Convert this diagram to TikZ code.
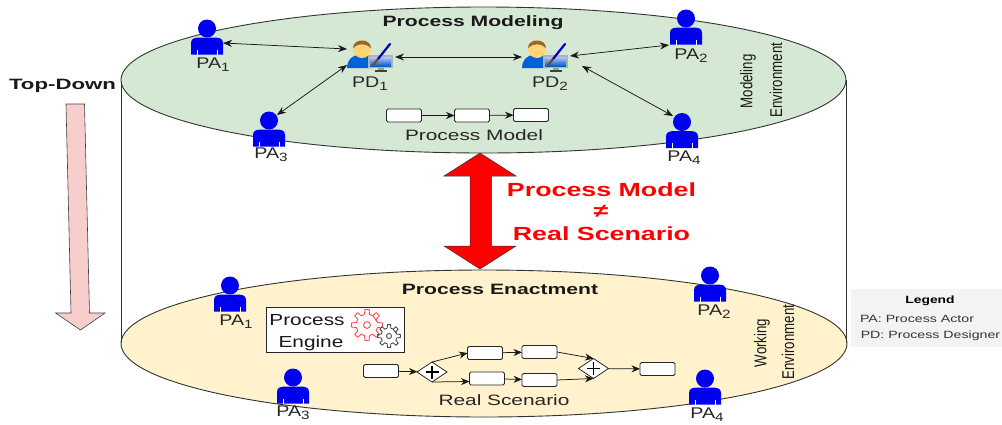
\documentclass[tikz,border=0pt]{standalone}
\usepackage{fontspec}
\setmainfont{Liberation Sans}
\usetikzlibrary{arrows.meta,shapes.geometric}
\definecolor{topfill}{HTML}{D5E8D4}
\definecolor{botfill}{HTML}{FFF2CC}
\definecolor{downfill}{HTML}{F8CECC}
\definecolor{actorblue}{HTML}{0000F0}
\definecolor{legendbg}{HTML}{F3F3F3}
\newcommand{\lowsub}[1]{\raisebox{-0.4ex}{\fontsize{12}{12}\selectfont #1}}
\tikzset{
  x=1pt,y=-1pt,
  every node/.style={inner sep=0pt,outer sep=0pt,align=center},
  env/.style={draw=black!80,line width=0.9pt},
  actorbox/.style={minimum width=32pt,minimum height=36pt},
  designerbox/.style={minimum width=46pt,minimum height=34pt},
  plabel/.style={font=\fontsize{15.5}{17}\selectfont,text=black!85,xscale=1.27},
  pname/.style={font=\fontsize{15}{17}\selectfont,text=black!85,xscale=1.39},
  task/.style={draw=black!85,fill=white,rounded corners=1.5pt,line width=0.8pt,minimum width=35pt,minimum height=13pt},
  gate/.style={draw=black!85,fill=white,diamond,aspect=1.45,line width=0.8pt,minimum width=30pt,minimum height=20pt},
  plusmark/.style={line width=1.5pt,black},
  link/.style={-{Stealth[length=8.5pt,width=7pt]},black!90,line width=0.75pt},
  dlink/.style={{Stealth[length=9pt,width=7pt]}-{Stealth[length=9pt,width=7pt]},black!90,line width=0.75pt},
  title/.style={font=\bfseries\fontsize{15}{17}\selectfont,text=black!90,xscale=1.41},
  side/.style={font=\fontsize{17}{18}\selectfont,rotate=90,xscale=0.78,text=black!90},
  redt/.style={font=\bfseries\fontsize{19}{22}\selectfont,text=red,xscale=1.41},
  legt/.style={font=\fontsize{10.5}{12}\selectfont,text=black!80,xscale=1.35},
}
\newcommand{\actoricon}[2]{%
  \begin{scope}[shift={(#1,#2)}]
    \fill[actorblue] (0,-10.5) circle (9pt);
    \fill[actorblue] (-16,15.5) -- (-16,4) .. controls (-16,-1) and (-12,-1.5) .. (-6,-1.5) -- (6,-1.5) .. controls (12,-1.5) and (16,-1) .. (16,4) -- (16,15.5) -- cycle;
    \draw[white,line width=0.5pt] (-10,10.5)--(-10,15.5) (10,10.5)--(10,15.5);
  \end{scope}}
\newcommand{\designericon}[2]{%
  \begin{scope}[shift={(#1,#2)}]
    \fill[blue!55!cyan!85!black] (-21,12) .. controls (-21,3) and (-14,-1) .. (-10,-1) -- (-2,-1) .. controls (2,0) and (5,5) .. (5,12) -- cycle;
    \fill[orange!60!yellow!55!white] (-6,-7) circle (9pt);
    \fill[brown!80!black] (-15,-8) .. controls (-15,-18) and (3,-18) .. (3,-8) .. controls (-2,-13) and (-10,-13) .. (-15,-8) -- cycle;
    \fill[gray!60] (0,-1) rectangle (25,12);
    \shade[top color=cyan!25!blue!30!white,bottom color=blue!50!cyan!75!black] (2,1) rectangle (23,10);
    \fill[gray!75] (10,12) rectangle (16,14);
    \fill[gray!50!black] (7,14) rectangle (19,15.5);
    \draw[blue!75!black,line width=2.2pt,line cap=round] (22,-12) -- (10,3);
    \draw[brown!60!black,line width=2.2pt] (10,3) -- (5,9);
  \end{scope}}
\newcommand{\gearicon}[4]{%
  \begin{scope}[shift={(#1,#2)},scale=#3]
    \draw[#4,line width=0.9pt,line join=round]
      \foreach \a in {0,45,...,315}{
        (\a-13:7) -- (\a-8:10) -- (\a+8:10) -- (\a+13:7) arc[start angle=\a+13,end angle=\a+32,radius=7]
      } -- cycle;
    \draw[#4,line width=0.9pt] (0,0) circle (2.2pt);
  \end{scope}}
\begin{document}
\begin{tikzpicture}
\useasboundingbox (0,0) rectangle (1002,424);
\fill[white] (0,0) rectangle (1002,424);
% legend
\fill[legendbg] (851,289) rectangle (1002,347);
\node[font=\bfseries\fontsize{10.5}{12}\selectfont,xscale=1.32] (legend) at (930,301) {Legend};
\node[legt] (lpa) at (917,318.5) {PA: Process Actor};
\node[legt] (lpd) at (930.5,336) {PD: Process Designer};
% cylinder
\draw[env,fill=botfill] (484,343.5) ellipse [x radius=363, y radius=73.5];
\draw[env] (121,80) -- (121,343);
\draw[env] (846,80) -- (846,343);
\draw[env,fill=topfill] (483.5,80) ellipse [x radius=362.5, y radius=73];
% titles
\node[title] (tm) at (473,23) {Process Modeling};
\node[title] (te) at (500,289) {Process Enactment};
\node[side] (me1) at (748,81.5) {Modeling};
\node[side] (me2) at (776,80) {Environment};
\node[side] (we1) at (762,343) {Working};
\node[side] (we2) at (788,342) {Environment};
% actors top
\node[actorbox] (a1) at (207,39) {}; \actoricon{207}{39}
\node[actorbox] (a2) at (686,29) {}; \actoricon{686}{29}
\node[actorbox] (a3) at (269,131) {}; \actoricon{269}{131}
\node[actorbox] (a4) at (682,132.5) {}; \actoricon{682}{132.5}
\node[designerbox] (d1) at (368,56) {}; \designericon{368}{56}
\node[designerbox] (d2) at (543,56) {}; \designericon{543}{56}
\node[plabel] (la1) at (213,65) {PA\lowsub{1}};
\node[plabel] (la2) at (691,56) {PA\lowsub{2}};
\node[plabel] (la3) at (271,155) {PA\lowsub{3}};
\node[plabel] (la4) at (684,158) {PA\lowsub{4}};
\node[plabel] (ld1) at (370,84) {PD\lowsub{1}};
\node[plabel] (ld2) at (550,84) {PD\lowsub{2}};
\draw[dlink] ([shift={(0,4)}]a1.east) -- ([shift={(2,-7)}]d1.west);
\draw[dlink] ([shift={(8,2)}]a3.north) -- ([shift={(2,9)}]d1.west);
\draw[dlink] ([shift={(4,1)}]d1.east) -- ([shift={(2,1)}]d2.west);
\draw[dlink] ([shift={(4,0)}]d2.east) -- ([shift={(-1,-2)}]a2.south west);
\draw[dlink] ([shift={(16,10)}]d2.east) -- ([shift={(7,1.5)}]a4.north west);
% process model
\node[task] (m1) at (404,115.5) {};
\node[task] (m2) at (472,115.5) {};
\node[task] (m3) at (531,115) {};
\draw[link] (m1) -- (m2);
\draw[link] (m2) -- (m3);
\node[pname] (pm) at (474,135) {Process Model};
% red arrow
\fill[red,draw=black!80,line width=0.5pt] (480,153) -- (516,176) -- (491.5,176) -- (491.5,246) -- (516,246) -- (480,269) -- (444,246) -- (470,246) -- (470,176) -- (444,176) -- cycle;
\node[redt] (r1) at (601.5,190) {Process Model};
\node[redt] (r2) at (601,211) {≠};
\node[redt] (r3) at (601.5,234) {Real Scenario};
% top-down
\node[title,xscale=1.05] (td) at (62.5,86) {Top-Down};
\draw[fill=downfill,draw=black!75,line width=0.6pt] (66,104) -- (84.5,104) -- (89.5,313) -- (105,313) -- (80.5,330) -- (55.5,313) -- (71,313) -- cycle;
% actors bottom
\node[actorbox] (b1) at (230,296) {}; \actoricon{230}{296}
\node[actorbox] (b2) at (710,286) {}; \actoricon{710}{286}
\node[actorbox] (b3) at (293,388) {}; \actoricon{293}{388}
\node[actorbox] (b4) at (705,389) {}; \actoricon{705}{389}
\node[plabel] (lb1) at (236,322) {PA\lowsub{1}};
\node[plabel] (lb2) at (714,312) {PA\lowsub{2}};
\node[plabel] (lb3) at (293,413) {PA\lowsub{3}};
\node[plabel] (lb4) at (707,415) {PA\lowsub{4}};
% engine
\node[draw=black!85,fill=white,line width=0.7pt,minimum width=138pt,minimum height=45pt] (eng) at (335,329.5) {};
\node[font=\fontsize{16}{18}\selectfont,text=black!90,xscale=1.3] (e1) at (307,320) {Process};
\node[font=\fontsize{16}{18}\selectfont,text=black!90,xscale=1.3] (e2) at (311,343) {Engine};
\gearicon{367}{325}{1.55}{red!70!white}
\gearicon{389}{336}{1.15}{black!70}
% scenario
\node[task] (s0) at (381,371) {};
\node[task] (s1) at (485,353) {};
\node[task] (s2) at (539.5,352) {};
\node[task] (s3) at (487,378.5) {};
\node[task] (s4) at (539.5,380) {};
\node[task] (s5) at (657.5,369) {};
\node[gate] (g1) at (432,372) {};
\draw[plusmark] (425.5,372) -- (438.5,372) (432,365.5) -- (432,378.5);
\node[gate] (g2) at (593.5,368.5) {};
\draw[plusmark] (587,368.5) -- (600,368.5) (593.5,362) -- (593.5,375);
\draw[link] (s0) -- (g1);
\draw[link] (g1.north) -- (s1.west);
\draw[link] (s1) -- (s2);
\draw[link] (g1.south) -- ([shift={(0,3)}]s3.west);
\draw[link] (s3) -- (s4);
\draw[link] (s2.east) -- (g2.north);
\draw[link] (s4.east) -- (g2.south);
\draw[link] (g2) -- (s5);
\node[pname] (rs) at (504,400) {Real Scenario};
\end{tikzpicture}
\end{document}
